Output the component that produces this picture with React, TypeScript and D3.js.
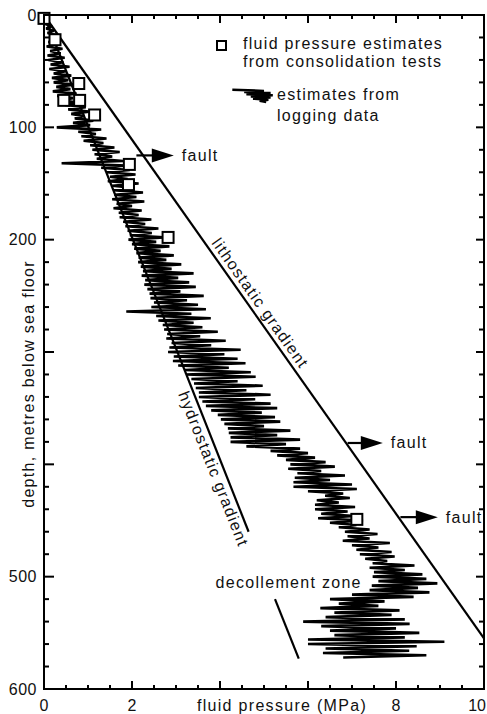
import React from "react";
import * as d3 from "d3";

// ---------- data ----------
const xTickLabels = [0, 2, 8, 10]; // 4 and 6 sit under the axis title
const yTickLabels = [0, 100, 200, 500, 600]; // 300, 400 sit under the axis title

// consolidation-test squares
const consolidationP = [0.0, 0.25, 0.79, 0.45, 0.81, 1.15, 1.94, 1.92, 2.82, 7.11];
const consolidationDepth = [3, 22, 61, 76, 76, 89, 133, 151, 198, 449];

// gradient lines (MPa, m)
const lithoP = [0, 10];
const lithoDepth = [0, 555];
const hydroUpperP = [0, 4.65];
const hydroUpperDepth = [0, 460];
const hydroLowerP = [5.25, 5.79];
const hydroLowerDepth = [520, 573];

// fault arrows
const faultDepth = [125, 381, 447];
const faultPStart = [2.1, 6.9, 8.1];
const faultPEnd = [2.95, 7.7, 8.95];

// logging trace, sampled every 2 m from 0 m (pressure, MPa)
const LOG_STEP = 2;
const logPressure = [
  // 0-18
  0.0, 0.04, 0.02, 0.1, 0.03, 0.18, 0.05, 0.22, 0.08, 0.3,
  // 20-38
  0.12, 0.36, 0.1, 0.28, 0.06, 0.42, 0.14, 0.38, 0.08, 0.47,
  // 40-58
  0.1, 0.44, 0.15, 0.58, 0.12, 0.5, 0.22, 0.62, 0.18, 0.55,
  // 60-78
  0.22, 0.68, 0.28, 0.6, 0.2, 0.74, 0.3, 0.66, 0.35, 0.8,
  // 80-98
  0.48, 0.95, 0.55, 1.02, 0.62, 0.92, 0.7, 1.12, 0.66, 1.05,
  // 100-118
  0.29, 1.3, 0.78, 1.18, 0.85, 1.42, 0.9, 1.35, 1.05, 1.6,
  // 120-138
  1.1, 1.72, 1.15, 1.55, 1.2, 1.8, 0.4, 1.88, 1.3, 1.95,
  // 140-158
  1.42, 2.08, 1.5, 1.9, 1.45, 2.15, 1.55, 2.05, 1.58, 2.25,
  // 160-178
  1.6, 2.1, 1.55, 2.28, 1.65, 2.0, 1.58, 2.22, 1.7, 2.15,
  // 180-198
  1.72, 2.44, 1.8, 2.3, 1.85, 2.6, 1.9, 2.45, 1.95, 2.72,
  // 200-218
  1.92, 2.55, 2.0, 2.85, 2.05, 2.65, 2.1, 2.95, 2.15, 2.78,
  // 220-238
  2.14, 3.12, 2.2, 2.9, 2.25, 3.4, 2.22, 3.05, 2.3, 3.3,
  // 240-258
  2.28, 3.45, 2.35, 3.1, 2.4, 3.63, 2.42, 3.25, 2.5, 3.5,
  // 260-278
  2.44, 3.68, 1.87, 3.35, 2.55, 3.79, 2.6, 3.4, 2.7, 3.6,
  // 280-298
  2.73, 3.95, 2.8, 3.55, 2.78, 4.13, 2.9, 3.8, 2.85, 4.47,
  // 300-318
  2.82, 4.1, 2.95, 4.4, 2.93, 4.58, 3.05, 4.2, 3.2, 4.7,
  // 320-338
  3.23, 4.81, 3.35, 4.4, 3.41, 4.97, 3.45, 4.6, 3.52, 5.15,
  // 340-358
  3.52, 4.8, 3.6, 5.15, 3.68, 5.3, 3.8, 4.95, 3.95, 5.25,
  // 360-378
  4.02, 5.37, 4.1, 5.0, 4.18, 5.6, 4.2, 5.3, 4.24, 5.82,
  // 380-398
  4.24, 5.5, 4.6, 5.82, 5.15, 6.0, 5.3, 6.16, 5.5, 6.4,
  // 400-418
  5.6, 6.61, 5.55, 6.3, 5.76, 6.84, 5.7, 6.5, 5.67, 7.0,
  // 420-438
  5.67, 7.11, 6.0, 6.8, 6.39, 6.95, 6.2, 6.7, 6.16, 7.07,
  // 440-458
  6.16, 6.9, 6.3, 7.07, 6.23, 7.25, 6.5, 7.1, 6.7, 7.4,
  // 460-478
  6.84, 7.58, 6.9, 7.4, 6.79, 7.86, 7.0, 7.6, 7.1, 7.9,
  // 480-498
  7.18, 7.97, 7.3, 7.8, 7.47, 8.42, 7.4, 8.2, 7.5, 8.6,
  // 500-518
  7.47, 8.69, 7.6, 8.94, 7.45, 8.5, 7.4, 8.76, 7.0, 8.4,
  // 520-538
  6.5, 7.74, 6.7, 7.6, 6.28, 8.08, 6.6, 7.9, 6.4, 8.2,
  // 540-558
  5.89, 8.31, 6.3, 8.0, 6.5, 8.53, 6.6, 8.2, 6.0, 9.1,
  // 560-572
  6.0, 8.47, 6.4, 8.3, 6.34, 8.69, 6.8,
];

// legend scribble (in plot units)
const legendScribbleP = [4.28, 5.0, 4.55, 5.15, 4.6, 5.2, 4.7, 5.15, 4.75, 5.1, 4.9, 5.05];
const legendScribbleDepth = [66.5, 67.5, 68.5, 69.5, 70.5, 71.5, 72.5, 73.5, 74.5, 75.5, 76.5, 77.5];

// ---------- layout ----------
const W = 487;
const H = 714;
const FONT = "'Liberation Sans', Arial, Helvetica, sans-serif";

const x = d3.scaleLinear().domain([0, 10]).range([44, 484]);
const y = d3.scaleLinear().domain([0, 600]).range([15, 689]);

const line = d3
  .line<{ p: number; d: number }>()
  .x((v) => x(v.p))
  .y((v) => y(v.d));

const angleOf = (p: number[], d: number[]) =>
  (Math.atan2(y(d[1]) - y(d[0]), x(p[1]) - x(p[0])) * 180) / Math.PI;

const pointOn = (p: number[], d: number[], depth: number) => {
  const t = (depth - d[0]) / (d[1] - d[0]);
  return [x(p[0] + t * (p[1] - p[0])), y(depth)];
};

export default function App() {
  const logData = logPressure.map((p, i) => ({ p, d: i * LOG_STEP }));
  const legendData = legendScribbleP.map((p, i) => ({ p, d: legendScribbleDepth[i] }));

  const yMinor = d3.range(0, 601, 20);
  const xMinor = d3.range(0, 10.01, 0.5);

  const lithoAngle = angleOf(lithoP, lithoDepth);
  const hydroAngle = angleOf(hydroUpperP, hydroUpperDepth);
  const lithoTextPos = pointOn(lithoP, lithoDepth, 262);
  const hydroTextPos = pointOn(hydroUpperP, hydroUpperDepth, 401);

  const textStyle = { fontFamily: FONT, fontSize: 16, letterSpacing: 1.3, fill: "#111" } as const;

  return (
    <svg
      width={W}
      height={H}
      style={{ position: "absolute", left: 0, top: 0, background: "#fff" }}
    >
      <rect x={0} y={0} width={W} height={H} fill="#fff" />

      {/* gradient lines */}
      <path
        d={line(lithoP.map((p, i) => ({ p, d: lithoDepth[i] })))!}
        stroke="#000"
        strokeWidth={2.2}
        fill="none"
      />
      <path
        d={line(hydroUpperP.map((p, i) => ({ p, d: hydroUpperDepth[i] })))!}
        stroke="#000"
        strokeWidth={2.2}
        fill="none"
      />
      <path
        d={line(hydroLowerP.map((p, i) => ({ p, d: hydroLowerDepth[i] })))!}
        stroke="#000"
        strokeWidth={2.2}
        fill="none"
      />

      {/* logging trace */}
      <path d={line(logData)!} stroke="#000" strokeWidth={2.6} fill="none" strokeLinejoin="bevel" />

      {/* consolidation squares */}
      {consolidationP.map((p, i) => (
        <rect
          key={i}
          x={x(p) - 5.5}
          y={y(consolidationDepth[i]) - 5.5}
          width={11}
          height={11}
          fill="#fff"
          stroke="#000"
          strokeWidth={2}
        />
      ))}

      {/* frame */}
      <rect x={x(0)} y={y(0)} width={x(10) - x(0)} height={y(600) - y(0)} fill="none" stroke="#000" strokeWidth={2} />

      {/* y ticks left & right */}
      {yMinor.map((d) => {
        const major = d % 100 === 0;
        return (
          <g key={d}>
            <line x1={x(0)} x2={x(0) + (major ? 10 : 5)} y1={y(d)} y2={y(d)} stroke="#000" strokeWidth={2} />
            <line x1={x(10)} x2={x(10) - (major ? 8 : 5)} y1={y(d)} y2={y(d)} stroke="#000" strokeWidth={2} />
          </g>
        );
      })}
      {/* x ticks bottom & top */}
      {xMinor.map((p) => {
        const major = Math.abs(p % 2) < 1e-6;
        return (
          <g key={p}>
            <line x1={x(p)} x2={x(p)} y1={y(600)} y2={y(600) - (major ? 8 : 4)} stroke="#000" strokeWidth={2} />
            <line x1={x(p)} x2={x(p)} y1={y(0)} y2={y(0) + (major ? 8 : 4)} stroke="#000" strokeWidth={2} />
          </g>
        );
      })}

      {/* tick labels */}
      {yTickLabels.map((d) => (
        <text key={d} x={37} y={y(d)} textAnchor="end" dominantBaseline="central" {...textStyle} letterSpacing={0.5}>
          {d}
        </text>
      ))}
      {xTickLabels.map((p) => (
        <text
          key={p}
          x={p === 10 ? W - 1 : x(p)}
          y={711}
          textAnchor={p === 10 ? "end" : "middle"}
          {...textStyle}
          letterSpacing={0}
        >
          {p}
        </text>
      ))}

      {/* axis titles */}
      <text x={282} y={711} textAnchor="middle" {...textStyle}>
        fluid pressure (MPa)
      </text>
      <text
        transform="translate(28,384) rotate(-90)"
        textAnchor="middle"
        dominantBaseline="central"
        {...textStyle}
      >
        depth, metres below sea floor
      </text>

      {/* fault arrows */}
      {faultDepth.map((d, i) => {
        const x1 = x(faultPStart[i]);
        const x2 = x(faultPEnd[i]);
        const yy = y(d);
        return (
          <g key={i}>
            <line x1={x1} x2={x2 - 18} y1={yy} y2={yy} stroke="#000" strokeWidth={2.2} />
            <path d={`M${x2},${yy} L${x2 - 22},${yy - 7} L${x2 - 22},${yy + 7} Z`} fill="#000" />
            <text x={x2 + 8} y={yy} dominantBaseline="central" {...textStyle}>
              fault
            </text>
          </g>
        );
      })}

      {/* line labels */}
      <text
        transform={`translate(${lithoTextPos[0]},${lithoTextPos[1]}) rotate(${lithoAngle})`}
        textAnchor="middle"
        dy={-5}
        {...textStyle}
      >
        lithostatic gradient
      </text>
      <text
        transform={`translate(${hydroTextPos[0]},${hydroTextPos[1]}) rotate(${hydroAngle})`}
        textAnchor="middle"
        dy={15}
        {...textStyle}
      >
        hydrostatic gradient
      </text>
      <text x={x(3.9)} y={y(505)} dominantBaseline="central" {...textStyle}>
        decollement zone
      </text>

      {/* legend */}
      <rect x={217} y={41} width={9} height={9} fill="#fff" stroke="#000" strokeWidth={2} />
      <text x={243} y={49} {...textStyle}>
        fluid pressure estimates
      </text>
      <text x={243} y={67} {...textStyle}>
        from consolidation tests
      </text>
      <path d={line(legendData)!} stroke="#000" strokeWidth={2.4} fill="none" strokeLinejoin="bevel" />
      <text x={277} y={100} {...textStyle}>
        estimates from
      </text>
      <text x={277} y={121} {...textStyle}>
        logging data
      </text>
    </svg>
  );
}
